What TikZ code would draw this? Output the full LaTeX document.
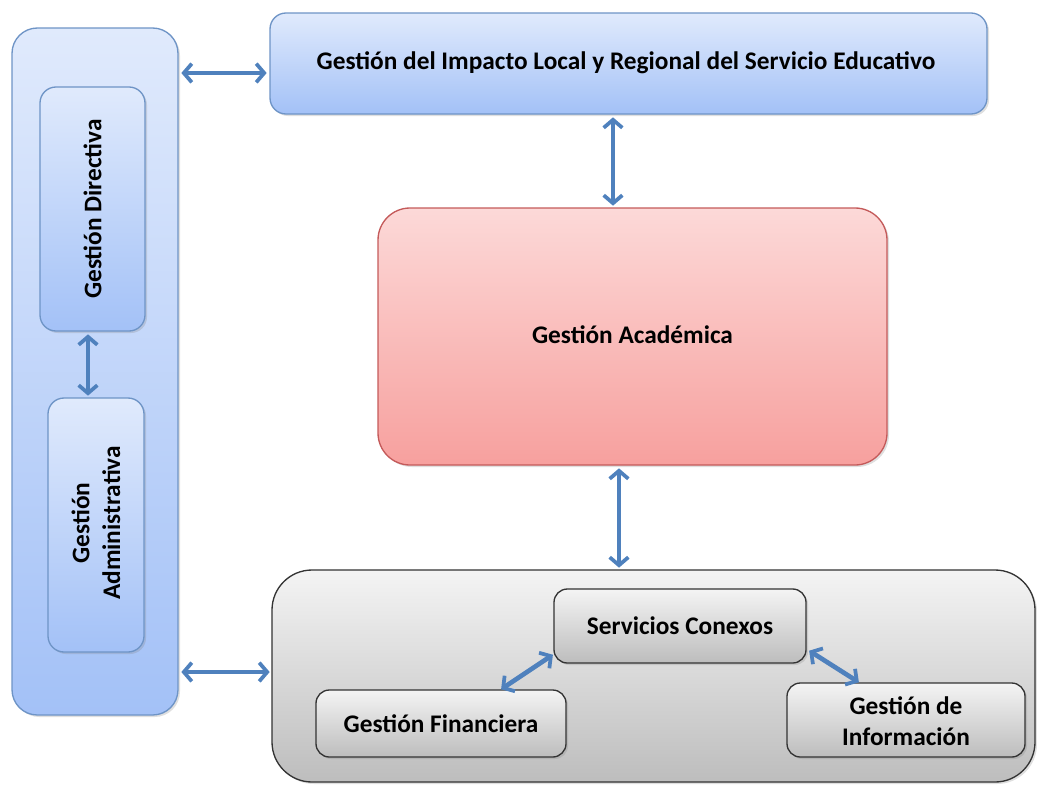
\documentclass[tikz,border=0pt]{standalone}
\usepackage{fontspec}
\setmainfont{Carlito}
\usetikzlibrary{arrows.meta,shadows,positioning}
\definecolor{arr}{HTML}{4F81BD}
\definecolor{btop}{HTML}{E0EAFC}
\definecolor{bbot}{HTML}{A3C1F7}
\definecolor{bdr}{HTML}{6E94C6}
\definecolor{rtop}{HTML}{FCD9D8}
\definecolor{rbot}{HTML}{F7A09E}
\definecolor{rdr}{HTML}{C45A5A}
\definecolor{gtop}{HTML}{F4F4F4}
\definecolor{gbot}{HTML}{BDBDBD}
\tikzset{
  bluebox/.style={draw=bdr, line width=1pt, top color=btop, bottom color=bbot, drop shadow={opacity=0.25, shadow xshift=1.5pt, shadow yshift=-1.5pt}},
  redbox/.style={draw=rdr, line width=1pt, top color=rtop, bottom color=rbot, drop shadow={opacity=0.25, shadow xshift=1.5pt, shadow yshift=-1.5pt}},
  graybox/.style={draw=black!80, line width=1pt, top color=gtop, bottom color=gbot, drop shadow={opacity=0.25, shadow xshift=1.5pt, shadow yshift=-1.5pt}},
  lbl/.style={font=\bfseries\fontsize{19}{23}\selectfont, align=center, text=black},
  conn/.style={draw=arr, line width=3.5pt, {Straight Barb[length=6pt,width=14pt,line width=2.8pt]}-{Straight Barb[length=6pt,width=14pt,line width=2.8pt]}, shorten <=1pt, shorten >=1pt}
}
\begin{document}
\begin{tikzpicture}[x=0.75pt,y=-0.75pt]
\useasboundingbox (0,0) rectangle (1037,785);
% left column
\draw[bluebox, rounded corners=19pt] (12,28) rectangle (178,715);
\draw[bluebox, rounded corners=12pt] (40,87) rectangle (145,331);
\node[lbl, rotate=90] (dir) at (92.5,209) {Gestión Directiva};
\draw[bluebox, rounded corners=12pt] (48,398) rectangle (144,652);
\node[lbl, rotate=90] (adm) at (96,523) {Gestión\\Administrativa};
% top box
\draw[bluebox, rounded corners=12pt] (270,13) rectangle (987,114);
\node[lbl] (imp) at (626,63) {Gestión del Impacto Local y Regional del Servicio Educativo};
% red box
\draw[redbox, rounded corners=24pt] (378,208) rectangle (887,465);
\node[lbl] (aca) at (632.5,335) {Gestión Académica};
% gray box
\draw[graybox, rounded corners=30pt] (272,570) rectangle (1035,782);
\draw[graybox, rounded corners=10pt] (554,589) rectangle (806,663);
\node[lbl] (ser) at (680,626) {Servicios Conexos};
\draw[graybox, rounded corners=10pt] (316,690) rectangle (566,757);
\node[lbl] (fin) at (441,723.5) {Gestión Financiera};
\draw[graybox, rounded corners=10pt] (787,683) rectangle (1025,757);
\node[lbl] (inf) at (906,721) {Gestión de\\Información};
% anchor coordinates for connectors
\coordinate (a1) at (180,73);   \coordinate (a2) at (268,73);
\coordinate (b1) at (613,116);  \coordinate (b2) at (613,207);
\coordinate (c1) at (619,467);  \coordinate (c2) at (619,569);
\coordinate (d1) at (180,672);  \coordinate (d2) at (271,672);
\coordinate (e1) at (88,333);   \coordinate (e2) at (88,397);
\coordinate (f1) at (500,690);  \coordinate (f2) at (554,654);
\coordinate (g1) at (808,650);  \coordinate (g2) at (860,683);
\draw[conn] (a1) -- (a2);
\draw[conn] (b1) -- (b2);
\draw[conn] (c1) -- (c2);
\draw[conn] (d1) -- (d2);
\draw[conn] (e1) -- (e2);
\draw[conn] (f1) -- (f2);
\draw[conn] (g1) -- (g2);
\end{tikzpicture}
\end{document}
